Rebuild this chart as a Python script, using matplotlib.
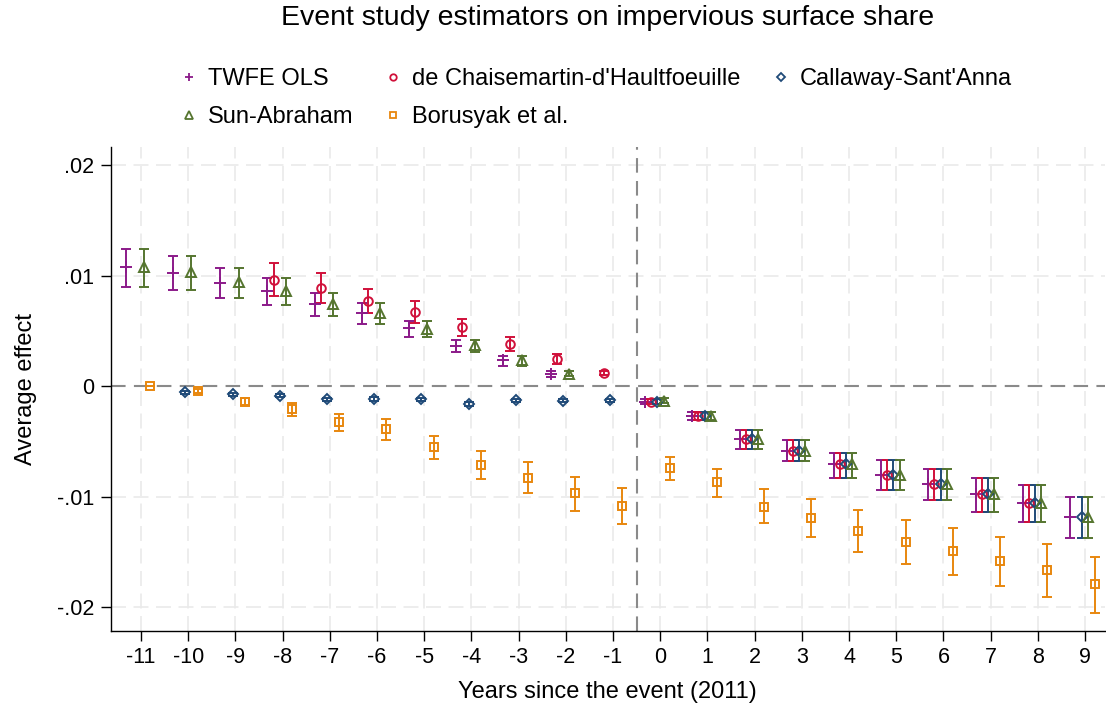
import numpy as np
import matplotlib
matplotlib.use("Agg")
import matplotlib.pyplot as plt
from matplotlib.lines import Line2D

plt.rcParams["font.family"] = ["Liberation Sans", "DejaVu Sans"]

nan = np.nan

# event time relative to 2011
event_time = np.arange(-11, 10)

# TWFE OLS (period -1 is the reference)
twfe_est = [0.01075, 0.01024, 0.00934, 0.00856, 0.00739, 0.0066, 0.00523, 0.00363, 0.00234, 0.00108, nan,
            -0.00141, -0.0027, -0.0048, -0.00586, -0.00706, -0.0080, -0.00886, -0.00976, -0.01057, -0.0118]
twfe_lo = [0.0090, 0.0087, 0.0080, 0.0073, 0.0063, 0.00565, 0.0044, 0.0031, 0.0018, 0.0008, nan,
           -0.0016, -0.0031, -0.0057, -0.0068, -0.0083, -0.0094, -0.0103, -0.0114, -0.0123, -0.0137]
twfe_hi = [0.0124, 0.0118, 0.0107, 0.0098, 0.0084, 0.0075, 0.0059, 0.0042, 0.0027, 0.0014, nan,
           -0.0012, -0.0023, -0.0040, -0.0049, -0.0060, -0.0067, -0.0075, -0.0083, -0.0089, -0.0100]

# de Chaisemartin-d'Haultfoeuille
dcdh_est = [nan, nan, nan, 0.00961, 0.00886, 0.00772, 0.0067, 0.00535, 0.00378, 0.00243, 0.0012,
            -0.00141, -0.0027, -0.0048, -0.00586, -0.00706, -0.0080, -0.00886, -0.00976, -0.01057, nan]
dcdh_lo = [nan, nan, nan, 0.00814, 0.0075, 0.00658, 0.0057, 0.0045, 0.0032, 0.0020, 0.0010,
           -0.0016, -0.0031, -0.0057, -0.0068, -0.0083, -0.0094, -0.0103, -0.0114, -0.0123, nan]
dcdh_hi = [nan, nan, nan, 0.0111, 0.0102, 0.0088, 0.00766, 0.0061, 0.0044, 0.0029, 0.0014,
           -0.0012, -0.0023, -0.0040, -0.0049, -0.0060, -0.0067, -0.0075, -0.0083, -0.0089, nan]

# Callaway-Sant'Anna
cs_est = [nan, -0.00057, -0.00075, -0.00087, -0.0012, -0.00114, -0.00117, -0.00162, -0.00129, -0.00132, -0.00126,
          -0.0014, -0.0027, -0.0048, -0.00586, -0.00706, -0.0080, -0.00886, -0.00976, -0.01057, -0.0118]
cs_lo = [nan, -0.0007, -0.0009, -0.0010, -0.00135, -0.0013, -0.0013, -0.00177, -0.00144, -0.00147, -0.0014,
         -0.0016, -0.0031, -0.0057, -0.0068, -0.0083, -0.0094, -0.0103, -0.0114, -0.0123, -0.0137]
cs_hi = [nan, -0.00044, -0.0006, -0.00074, -0.00105, -0.001, -0.00104, -0.00147, -0.00114, -0.00117, -0.00112,
         -0.0012, -0.0023, -0.0040, -0.0049, -0.0060, -0.0067, -0.0075, -0.0083, -0.0089, -0.0100]

# Sun-Abraham
sa_est = [0.0108, 0.0103, 0.0094, 0.0086, 0.00745, 0.0066, 0.0052, 0.00369, 0.00234, 0.00114, nan,
          -0.0013, -0.0027, -0.0048, -0.00586, -0.00706, -0.0080, -0.00886, -0.00976, -0.01057, -0.0118]
sa_lo = [0.0090, 0.0087, 0.0080, 0.0073, 0.0063, 0.0056, 0.0044, 0.0031, 0.0018, 0.0009, nan,
         -0.0015, -0.0031, -0.0057, -0.0068, -0.0083, -0.0094, -0.0103, -0.0114, -0.0123, -0.0137]
sa_hi = [0.0124, 0.0118, 0.0107, 0.0098, 0.0084, 0.0075, 0.0059, 0.0042, 0.0027, 0.0014, nan,
         -0.0011, -0.0023, -0.0040, -0.0049, -0.0060, -0.0067, -0.0075, -0.0083, -0.0089, -0.0100]

# Borusyak et al.
bjs_est = [0.0, -0.00045, -0.0014, -0.0021, -0.00327, -0.0039, -0.0055, -0.0071, -0.0083, -0.0097, -0.0108,
           -0.0074, -0.0087, -0.0109, -0.0119, -0.0131, -0.0141, -0.0149, -0.0158, -0.0166, -0.0179]
bjs_lo = [0.0, -0.0006, -0.0017, -0.0027, -0.00405, -0.0049, -0.0066, -0.0084, -0.0097, -0.0113, -0.0125,
          -0.0085, -0.0100, -0.0124, -0.0136, -0.0150, -0.0161, -0.0171, -0.0181, -0.0191, -0.0205]
bjs_hi = [0.0, -0.0003, -0.0011, -0.00156, -0.00255, -0.0030, -0.00448, -0.0059, -0.0069, -0.0082, -0.0092,
          -0.0064, -0.0075, -0.0093, -0.0102, -0.0112, -0.0121, -0.0128, -0.0136, -0.0143, -0.0154]

labels = ["TWFE OLS", "de Chaisemartin-d'Haultfoeuille", "Callaway-Sant'Anna", "Sun-Abraham", "Borusyak et al."]
ytick_vals = [0.02, 0.01, 0.0, -0.01, -0.02]
ytick_text = [".02", ".01", "0", "-.01", "-.02"]

series = [
    (twfe_est, twfe_lo, twfe_hi, "+", "#8B1A89", -0.32),
    (dcdh_est, dcdh_lo, dcdh_hi, "o", "#D0103A", -0.19),
    (cs_est, cs_lo, cs_hi, "D", "#1F4A78", -0.06),
    (sa_est, sa_lo, sa_hi, "^", "#55752F", 0.07),
    (bjs_est, bjs_lo, bjs_hi, "s", "#E8870E", 0.20),
]
marker_sizes = {"+": 8, "o": 6.2, "D": 5.6, "^": 6.8, "s": 6.2}

fig = plt.figure(figsize=(11.06, 7.11), dpi=100)
ax = fig.add_axes([0.1001, 0.113, 0.8989, 0.680])

grid_kw = dict(color="#EAEAEA", lw=1.2, ls=(0, (9, 4.5)), zorder=0)
for t in event_time:
    ax.axvline(t, **grid_kw)
for v in ytick_vals:
    if v != 0:
        ax.axhline(v, **grid_kw)
ax.axhline(0, color="#8A8A8A", lw=1.5, ls=(0, (7, 4)), zorder=1)
ax.axvline(-0.5, color="#8A8A8A", lw=1.5, ls=(0, (7, 4)), zorder=1)

for est, lo, hi, mk, col, off in series:
    est = np.array(est)
    lo = np.array(lo)
    hi = np.array(hi)
    ok = ~np.isnan(est)
    ax.errorbar(event_time[ok] + off, est[ok], yerr=[est[ok] - lo[ok], hi[ok] - est[ok]],
                fmt=mk, ms=marker_sizes[mk], mfc="none", mec=col, mew=1.4,
                ecolor=col, elinewidth=1.4, capsize=3.3, capthick=1.4, zorder=3)

ax.set_xlim(-11.64, 9.42)
ax.set_ylim(-0.0221, 0.0216)
ax.set_xticks(event_time)
ax.set_xticklabels([str(t) for t in event_time])
ax.set_yticks(ytick_vals)
ax.set_yticklabels(ytick_text)
ax.tick_params(axis="both", labelsize=15.5, length=7, width=1, direction="out", pad=5)
for side in ["top", "right"]:
    ax.spines[side].set_visible(False)
for side in ["left", "bottom"]:
    ax.spines[side].set_linewidth(1)

ax.set_xlabel("Years since the event (2011)", fontsize=17, labelpad=9)
ax.set_ylabel("Average effect", fontsize=17, labelpad=14)

fig.text(0.5495, 0.974, "Event study estimators on impervious surface share",
         fontsize=20.5, ha="center", va="center")

# legend fills column-wise, so order the handles to get the row layout
order = [0, 3, 1, 4, 2]
handles = []
for i in order:
    est, lo, hi, mk, col, off = series[i]
    handles.append(Line2D([], [], ls="none", marker=mk, ms=marker_sizes[mk] * 0.75,
                          mfc="none", mec=col, mew=1.3, label=labels[i]))
fig.legend(handles=handles, loc="upper left", bbox_to_anchor=(0.16, 0.904), ncol=3,
           frameon=False, fontsize=17, handlelength=1.0, handletextpad=0.3,
           columnspacing=1.2, labelspacing=0.66, borderpad=0, borderaxespad=0)

fig.savefig("out.png", dpi=100)
